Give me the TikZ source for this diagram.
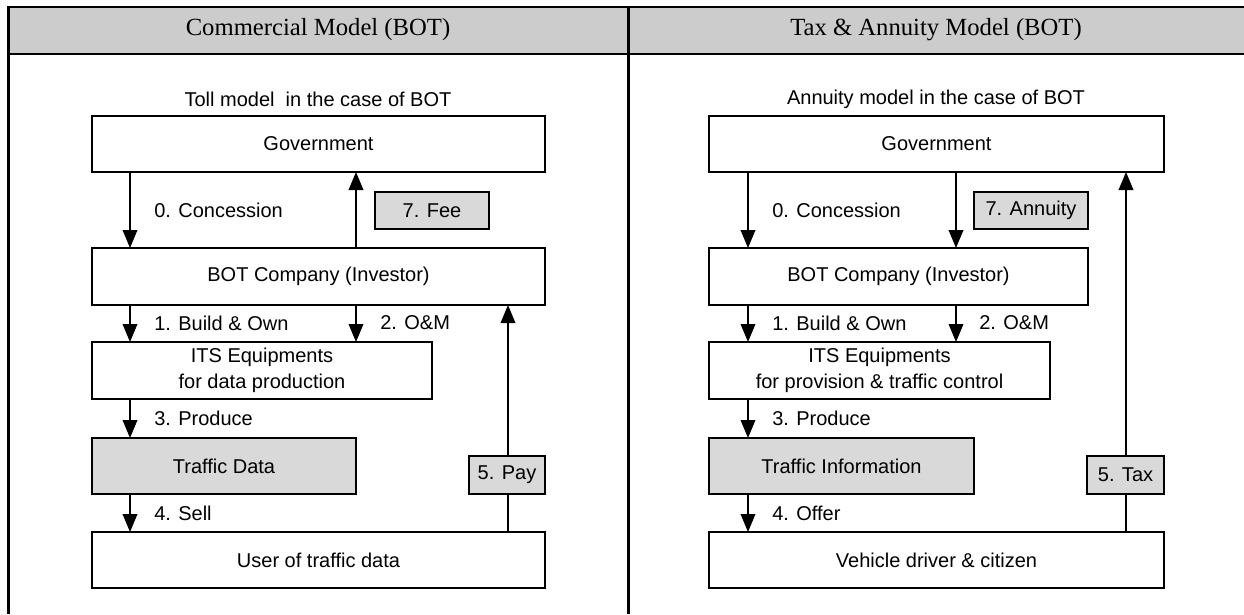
\documentclass[tikz,border=0pt]{standalone}
\usepackage{fontspec}
\setmainfont{Liberation Sans}
\newfontfamily\headfont{Liberation Serif}
\usetikzlibrary{arrows.meta}
\definecolor{headgray}{HTML}{CCCCCC}
\definecolor{boxgray}{HTML}{D9D9D9}
\begin{document}
\begin{tikzpicture}[x=0.75pt,y=-0.75pt,
  every node/.style={font=\fontsize{15}{19.5}\selectfont},
  sz/.style 2 args={minimum width=#1*0.75pt, minimum height=#2*0.75pt},
  box/.style={draw, line width=1.3pt, anchor=north west, inner sep=0pt, outer sep=0pt, align=center},
  shaded/.style={box, fill=boxgray},
  flow/.style={line width=1.1pt, -{Triangle[width=11pt,length=13.5pt]}},
  lbl/.style={anchor=west, inner sep=0pt},
  title/.style={font=\headfont\fontsize{18.5}{22}\selectfont},
  frame/.style={line width=2.2pt}]
\useasboundingbox (0,0) rectangle (1244,614);

% table header and rules
\fill[headgray] (8,7) rectangle (1244,54);
\draw[frame] (1244,7) -- (8.5,7) -- (8.5,614);
\draw[frame] (8,54) -- (1244,54);
\draw[frame] (628.5,7) -- (628.5,614);
\node[title] (h1) at (318,30) {Commercial Model (BOT)};
\node[title] (h2) at (936,30) {Tax \& Annuity Model (BOT)};

% ---------- left: toll model ----------
\node (s1) at (318,99) {Toll model\ \ in the case of BOT};
\node[box, sz={453}{56}] (gov) at (92,116) {Government};
\node[box, sz={453}{57}] (bot) at (92,248) {BOT Company (Investor)};
\node[box, sz={340}{57}] (its) at (92,342) {ITS Equipments\\for data production};
\node[shaded, sz={264}{56}] (data) at (92,438) {Traffic Data};
\node[box, sz={453}{56}] (user) at (92,532) {User of traffic data};
\node[shaded, sz={114}{37}] (fee) at (375,192) {7. Fee};

\draw[flow] ([xshift=28.5pt]gov.south west) -- ([xshift=28.5pt]bot.north west);
\draw[flow] ([xshift=198pt]bot.north west) -- ([xshift=198pt]gov.south west);
\draw[flow] ([xshift=28.5pt]bot.south west) -- ([xshift=28.5pt]its.north west);
\draw[flow] ([xshift=198pt]bot.south west) -- ([xshift=198pt]its.north west);
\draw[flow] ([xshift=28.5pt]its.south west) -- ([xshift=28.5pt]data.north west);
\draw[flow] ([xshift=28.5pt]data.south west) -- ([xshift=28.5pt]user.north west);
\draw[flow] ([xshift=312pt]user.north west) -- ([xshift=312pt]bot.south west);
\node[shaded, sz={76}{38}] (pay) at (469,456) {5. Pay};

\node[lbl] (l0) at (154,210) {0. Concession};
\node[lbl] (l1) at (154,323) {1. Build \& Own};
\node[lbl] (l2) at (380,323) {2. O\&M};
\node[lbl] (l3) at (154,418) {3. Produce};
\node[lbl] (l4) at (154,513) {4. Sell};

% ---------- right: annuity model ----------
\node (s2) at (936,99) {Annuity model in the case of BOT};
\node[box, sz={455}{56}] (gov2) at (709,116) {Government};
\node[box, sz={379}{57}] (bot2) at (709,248) {BOT Company (Investor)};
\node[box, sz={341}{57}] (its2) at (709,342) {ITS Equipments\\for provision \& traffic control};
\node[shaded, sz={265}{56}] (info2) at (709,438) {Traffic Information};
\node[box, sz={455}{56}] (user2) at (709,532) {Vehicle driver \& citizen};
\node[shaded, sz={114}{37}] (ann) at (974,192) {7. Annuity};

\draw[flow] ([xshift=29.25pt]gov2.south west) -- ([xshift=29.25pt]bot2.north west);
\draw[flow] ([xshift=185.25pt]gov2.south west) -- ([xshift=185.25pt]bot2.north west);
\draw[flow] ([xshift=29.25pt]bot2.south west) -- ([xshift=29.25pt]its2.north west);
\draw[flow] ([xshift=185.25pt]bot2.south west) -- ([xshift=185.25pt]its2.north west);
\draw[flow] ([xshift=29.25pt]its2.south west) -- ([xshift=29.25pt]info2.north west);
\draw[flow] ([xshift=29.25pt]info2.south west) -- ([xshift=29.25pt]user2.north west);
\draw[flow] ([xshift=312.75pt]user2.north west) -- ([xshift=312.75pt]gov2.south west);
\node[shaded, sz={77}{38}] (tax) at (1087,456) {5. Tax};

\node[lbl] (r0) at (772,210) {0. Concession};
\node[lbl] (r1) at (772,323) {1. Build \& Own};
\node[lbl] (r2) at (979,323) {2. O\&M};
\node[lbl] (r3) at (772,418) {3. Produce};
\node[lbl] (r4) at (772,513) {4. Offer};
\end{tikzpicture}
\end{document}
